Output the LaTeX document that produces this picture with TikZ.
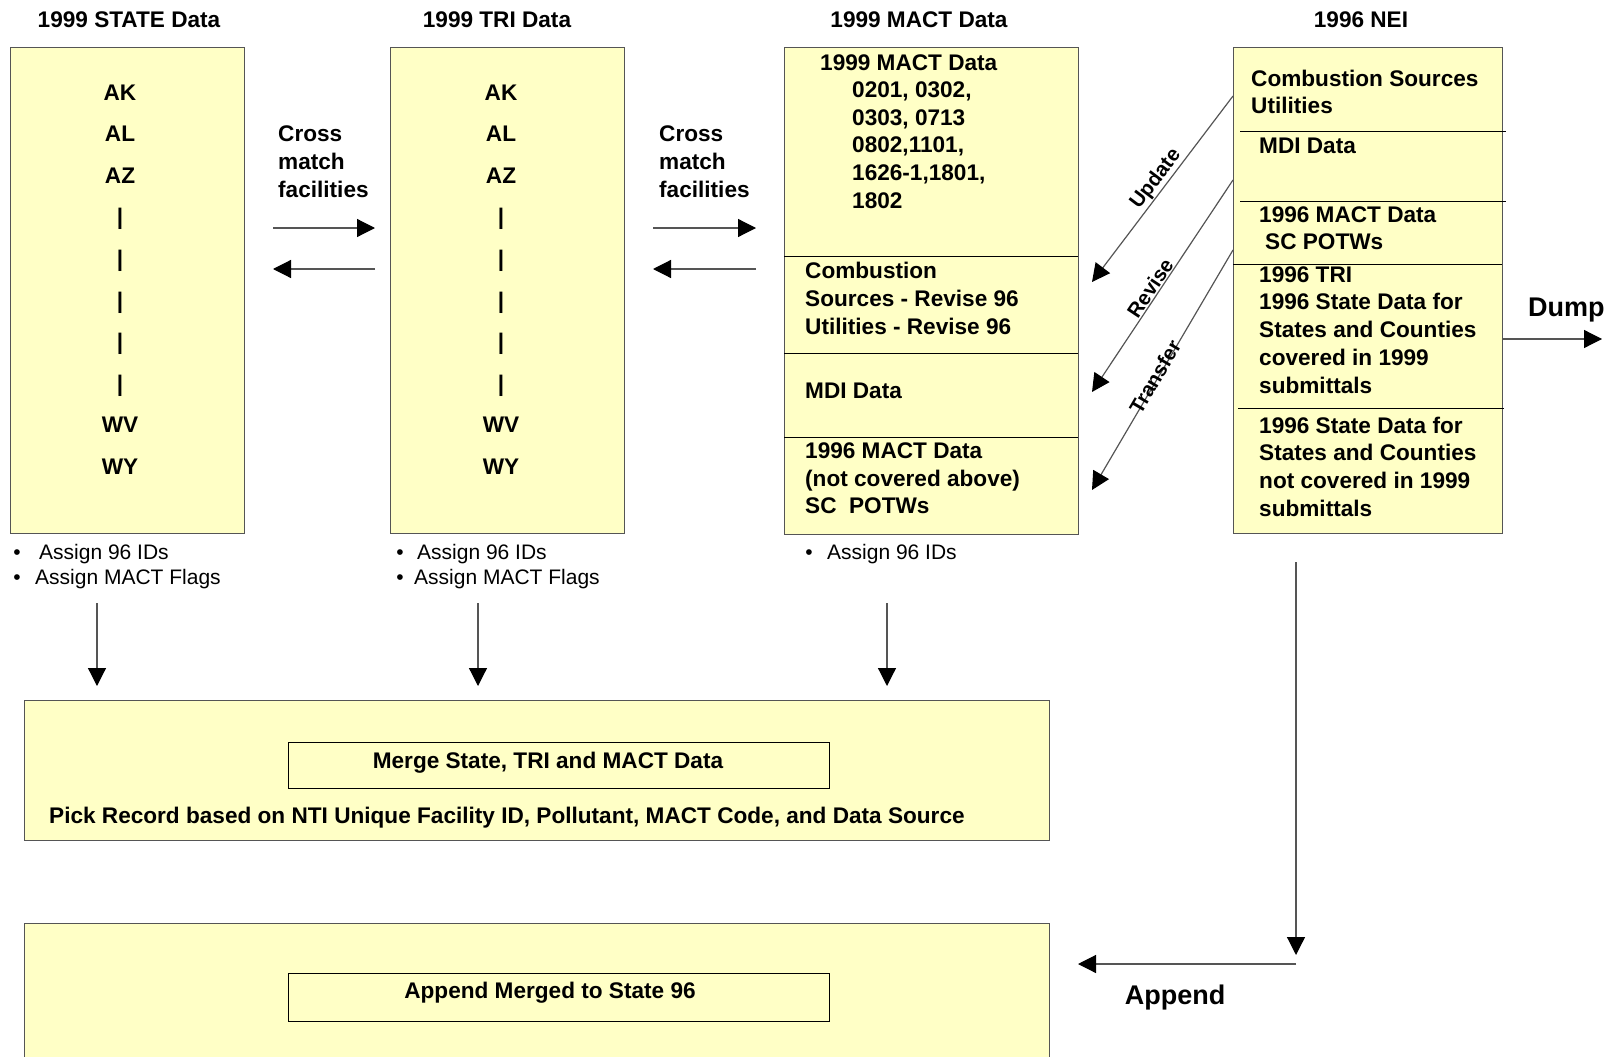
\documentclass[tikz,border=0pt]{standalone}
\usepackage{fontspec}
\setmainfont{Liberation Sans}
\usetikzlibrary{arrows.meta}
\definecolor{boxfill}{HTML}{FFFFC6}
\definecolor{edge}{HTML}{555555}
\begin{document}
\begin{tikzpicture}[x=1pt,y=-1pt,
  bt/.style={font=\fontsize{22.6}{27}\selectfont\bfseries, inner sep=0pt, text height=16.2pt, text depth=0pt},
  big/.style={font=\fontsize{27}{32}\selectfont\bfseries, inner sep=0pt, text height=19.4pt, text depth=0pt},
  rt/.style={font=\fontsize{21}{26}\selectfont, inner sep=0pt, text height=15pt, text depth=0pt},
  lbl/.style={font=\fontsize{20.5}{24}\selectfont\bfseries, inner sep=0pt},
  panel/.style={draw=edge, line width=1.3pt, fill=boxfill, inner sep=0pt, anchor=north west},
  inbox/.style={draw=black, line width=1pt, inner sep=0pt, anchor=north west},
  divider/.style={draw=black, line width=0.9pt},
  arr/.style={draw=edge, line width=1.2pt, -{Triangle[length=18pt,width=18pt,color=black]}},
]
\useasboundingbox (0,0) rectangle (1612,1057);
\clip (0,0) rectangle (1612,1057);

% ---------- titles ----------
\node[bt] (t-state) at (129,19) {1999 STATE Data};
\node[bt] (t-tri) at (497,19) {1999 TRI Data};
\node[bt] (t-mact) at (919,19) {1999 MACT Data};
\node[bt] (t-nei) at (1361,19) {1996 NEI};

% ---------- panels ----------
\node[panel, minimum width=234pt, minimum height=486pt] (state) at (10,47) {};
\node[panel, minimum width=234pt, minimum height=486pt] (tri) at (390,47) {};
\node[panel, minimum width=294pt, minimum height=487pt] (mact) at (784,47) {};
\node[panel, minimum width=269pt, minimum height=486pt] (nei) at (1233,47) {};

% ---------- state / tri lists ----------
\foreach \t [count=\i] in {AK,AL,AZ,|,|,|,|,|,WV,WY} {
  \node[bt] (s\i) at (120,{92+41.6*(\i-1)}) {\t};
  \node[bt] (r\i) at (501,{92+41.6*(\i-1)}) {\t};
}

% ---------- cross match ----------
\foreach \t [count=\i] in {Cross,match,facilities} {
  \node[bt, anchor=west] (cm1-\i) at (278,{133+28*(\i-1)}) {\t};
  \node[bt, anchor=west] (cm2-\i) at (659,{133+28*(\i-1)}) {\t};
}
\coordinate (a1) at (273,228); \coordinate (a2) at (375,228);
\coordinate (a3) at (375,269); \coordinate (a4) at (273,269);
\coordinate (b1) at (653,228); \coordinate (b2) at (756,228);
\coordinate (b3) at (756,269); \coordinate (b4) at (653,269);
\draw[arr] (a1) -- (a2);
\draw[arr] (a3) -- (a4);
\draw[arr] (b1) -- (b2);
\draw[arr] (b3) -- (b4);

% ---------- MACT panel ----------
\node[bt, anchor=west] (m0) at (820,62) {1999 MACT Data};
\foreach \t [count=\i] in {{0201, 0302,},{0303, 0713},{0802,1101,},{1626-1,1801,},{1802}} {
  \node[bt, anchor=west] (m\i) at (852,{62+27.6*\i}) {\t};
}
\draw[divider] (784,256) -- (1078,256);
\draw[divider] (784,353) -- (1078,353);
\draw[divider] (784,437) -- (1078,437);
\node[bt, anchor=west] (mc1) at (805,270) {Combustion};
\node[bt, anchor=west] (mc2) at (805,298) {Sources - Revise 96};
\node[bt, anchor=west] (mc3) at (805,326) {Utilities - Revise 96};
\node[bt, anchor=west] (md1) at (805,390) {MDI Data};
\node[bt, anchor=west] (mm1) at (805,450) {1996 MACT Data};
\node[bt, anchor=west] (mm2) at (805,478) {(not covered above)};
\node[bt, anchor=west] (mm3) at (805,505) {SC\ \ POTWs};

% ---------- NEI panel ----------
\node[bt, anchor=west] (n1) at (1251,78) {Combustion Sources};
\node[bt, anchor=west] (n2) at (1251,105) {Utilities};
\draw[divider] (1240,131) -- (1506,131);
\node[bt, anchor=west] (n3) at (1259,145) {MDI Data};
\draw[divider] (1240,201) -- (1506,201);
\node[bt, anchor=west] (n4) at (1259,214) {1996 MACT Data};
\node[bt, anchor=west] (n5) at (1265,241) {SC POTWs};
\draw[divider] (1233,264) -- (1502,264);
\foreach \t [count=\i] in {1996 TRI,1996 State Data for,States and Counties,covered in 1999,submittals} {
  \node[bt, anchor=west] (nc\i) at (1259,{274+27.8*(\i-1)}) {\t};
}
\draw[divider] (1238,408) -- (1504,408);
\foreach \t [count=\i] in {1996 State Data for,States and Counties,not covered in 1999,submittals} {
  \node[bt, anchor=west] (nn\i) at (1259,{425+27.7*(\i-1)}) {\t};
}

% ---------- Dump ----------
\node[big, anchor=west] (dump) at (1528,307) {Dump};
\coordinate (d1) at (1502,339); \coordinate (d2) at (1602,339);
\draw[arr] (d1) -- (d2);

% ---------- diagonal arrows ----------
\coordinate (u1) at (1233,96);  \coordinate (u2) at (1092,282);
\coordinate (v1) at (1233,180); \coordinate (v2) at (1092,392);
\coordinate (w1) at (1233,250); \coordinate (w2) at (1092,490);
\draw[arr] (u1) -- (u2);
\draw[arr] (v1) -- (v2);
\draw[arr] (w1) -- (w2);
\node[lbl, rotate=52.8] (l-upd) at (1156,179) {Update};
\node[lbl, rotate=56.4] (l-rev) at (1150,288) {Revise};
\node[lbl, rotate=59.6] (l-tra) at (1155,377) {Transfer};

% ---------- bullets ----------
\node[rt] (sb1) at (17,552) {•};
\node[rt, anchor=west] (st1) at (39,552) {Assign 96 IDs};
\node[rt] (sb2) at (17,577) {•};
\node[rt, anchor=west] (st2) at (35,577) {Assign MACT Flags};
\node[rt] (tb1) at (400,552) {•};
\node[rt, anchor=west] (tt1) at (417,552) {Assign 96 IDs};
\node[rt] (tb2) at (400,577) {•};
\node[rt, anchor=west] (tt2) at (414,577) {Assign MACT Flags};
\node[rt] (mb1) at (809,552) {•};
\node[rt, anchor=west] (mt1) at (827,552) {Assign 96 IDs};

% ---------- merge box ----------
\node[panel, minimum width=1025pt, minimum height=140pt] (merge) at (24,700) {};
\node[inbox, minimum width=541pt, minimum height=46pt] (mergein) at (288,742) {};
\node[bt] (mergetxt) at (548,760) {Merge State, TRI and MACT Data};
\node[bt, anchor=west] (pick) at (49,815) {Pick Record based on NTI Unique Facility ID, Pollutant, MACT Code, and Data Source};

% ---------- down arrows ----------
\coordinate (da1) at (97,603);  \coordinate (da2) at (97,686);
\coordinate (db1) at (478,603); \coordinate (db2) at (478,686);
\coordinate (dc1) at (887,603); \coordinate (dc2) at (887,686);
\draw[arr] (da1) -- (da2);
\draw[arr] (db1) -- (db2);
\draw[arr] (dc1) -- (dc2);

% ---------- append box ----------
\node[panel, minimum width=1025pt, minimum height=160pt] (append) at (24,923) {};
\node[inbox, minimum width=541pt, minimum height=48pt] (appendin) at (288,973) {};
\node[bt] (appendtxt) at (550,990) {Append Merged to State 96};

\coordinate (e1) at (1296,562); \coordinate (e2) at (1296,955);
\coordinate (e3) at (1296,964); \coordinate (e4) at (1078,964);
\draw[arr] (e1) -- (e2);
\draw[arr] (e3) -- (e4);
\node[big] (applbl) at (1175,995) {Append};
\end{tikzpicture}
\end{document}
